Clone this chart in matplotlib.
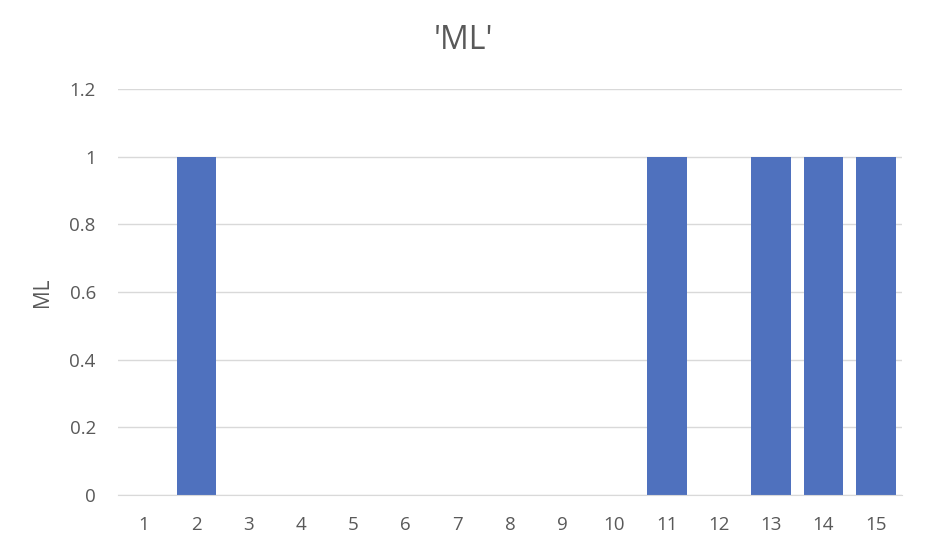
import numpy as np
import matplotlib.pyplot as plt

plt.rcParams['font.family'] = ['Open Sans', 'DejaVu Sans']

categories = [str(i) for i in range(1, 16)]
ml_values = [0, 1, 0, 0, 0, 0, 0, 0, 0, 0, 1, 0, 1, 1, 1]
y_ticks = [0, 0.2, 0.4, 0.6, 0.8, 1, 1.2]
y_labels = ['0', '0.2', '0.4', '0.6', '0.8', '1', '1.2']

text_color = '#595959'
grid_color = '#d9d9d9'

fig = plt.figure(figsize=(9.26, 5.48), dpi=100)
ax = fig.add_axes([0.1274, 0.0967, 0.8466, 0.7409])

x = np.arange(len(categories))
ax.bar(x, ml_values, width=0.76, color='#4F71BE', zorder=3)

ax.set_xlim(-0.5, len(categories) - 0.5)
ax.set_ylim(0, 1.2)
ax.set_xticks(x)
ax.set_xticklabels(categories)
ax.set_yticks(y_ticks)
ax.set_yticklabels(y_labels)

ax.grid(axis='y', color=grid_color, linewidth=1, zorder=0)
for side in ['top', 'right', 'left']:
    ax.spines[side].set_visible(False)
ax.spines['bottom'].set_color(grid_color)
ax.spines['bottom'].set_zorder(4)

ax.tick_params(axis='both', length=0, colors=text_color, labelsize=13.5)
ax.tick_params(axis='x', pad=15)
ax.tick_params(axis='y', pad=16)

ax.set_ylabel('ML', color=text_color, fontsize=15, labelpad=12)
fig.text(0.5, 0.927, "'ML'", ha='center', va='center', color=text_color, fontsize=23)

plt.savefig('out.png', dpi=100)
